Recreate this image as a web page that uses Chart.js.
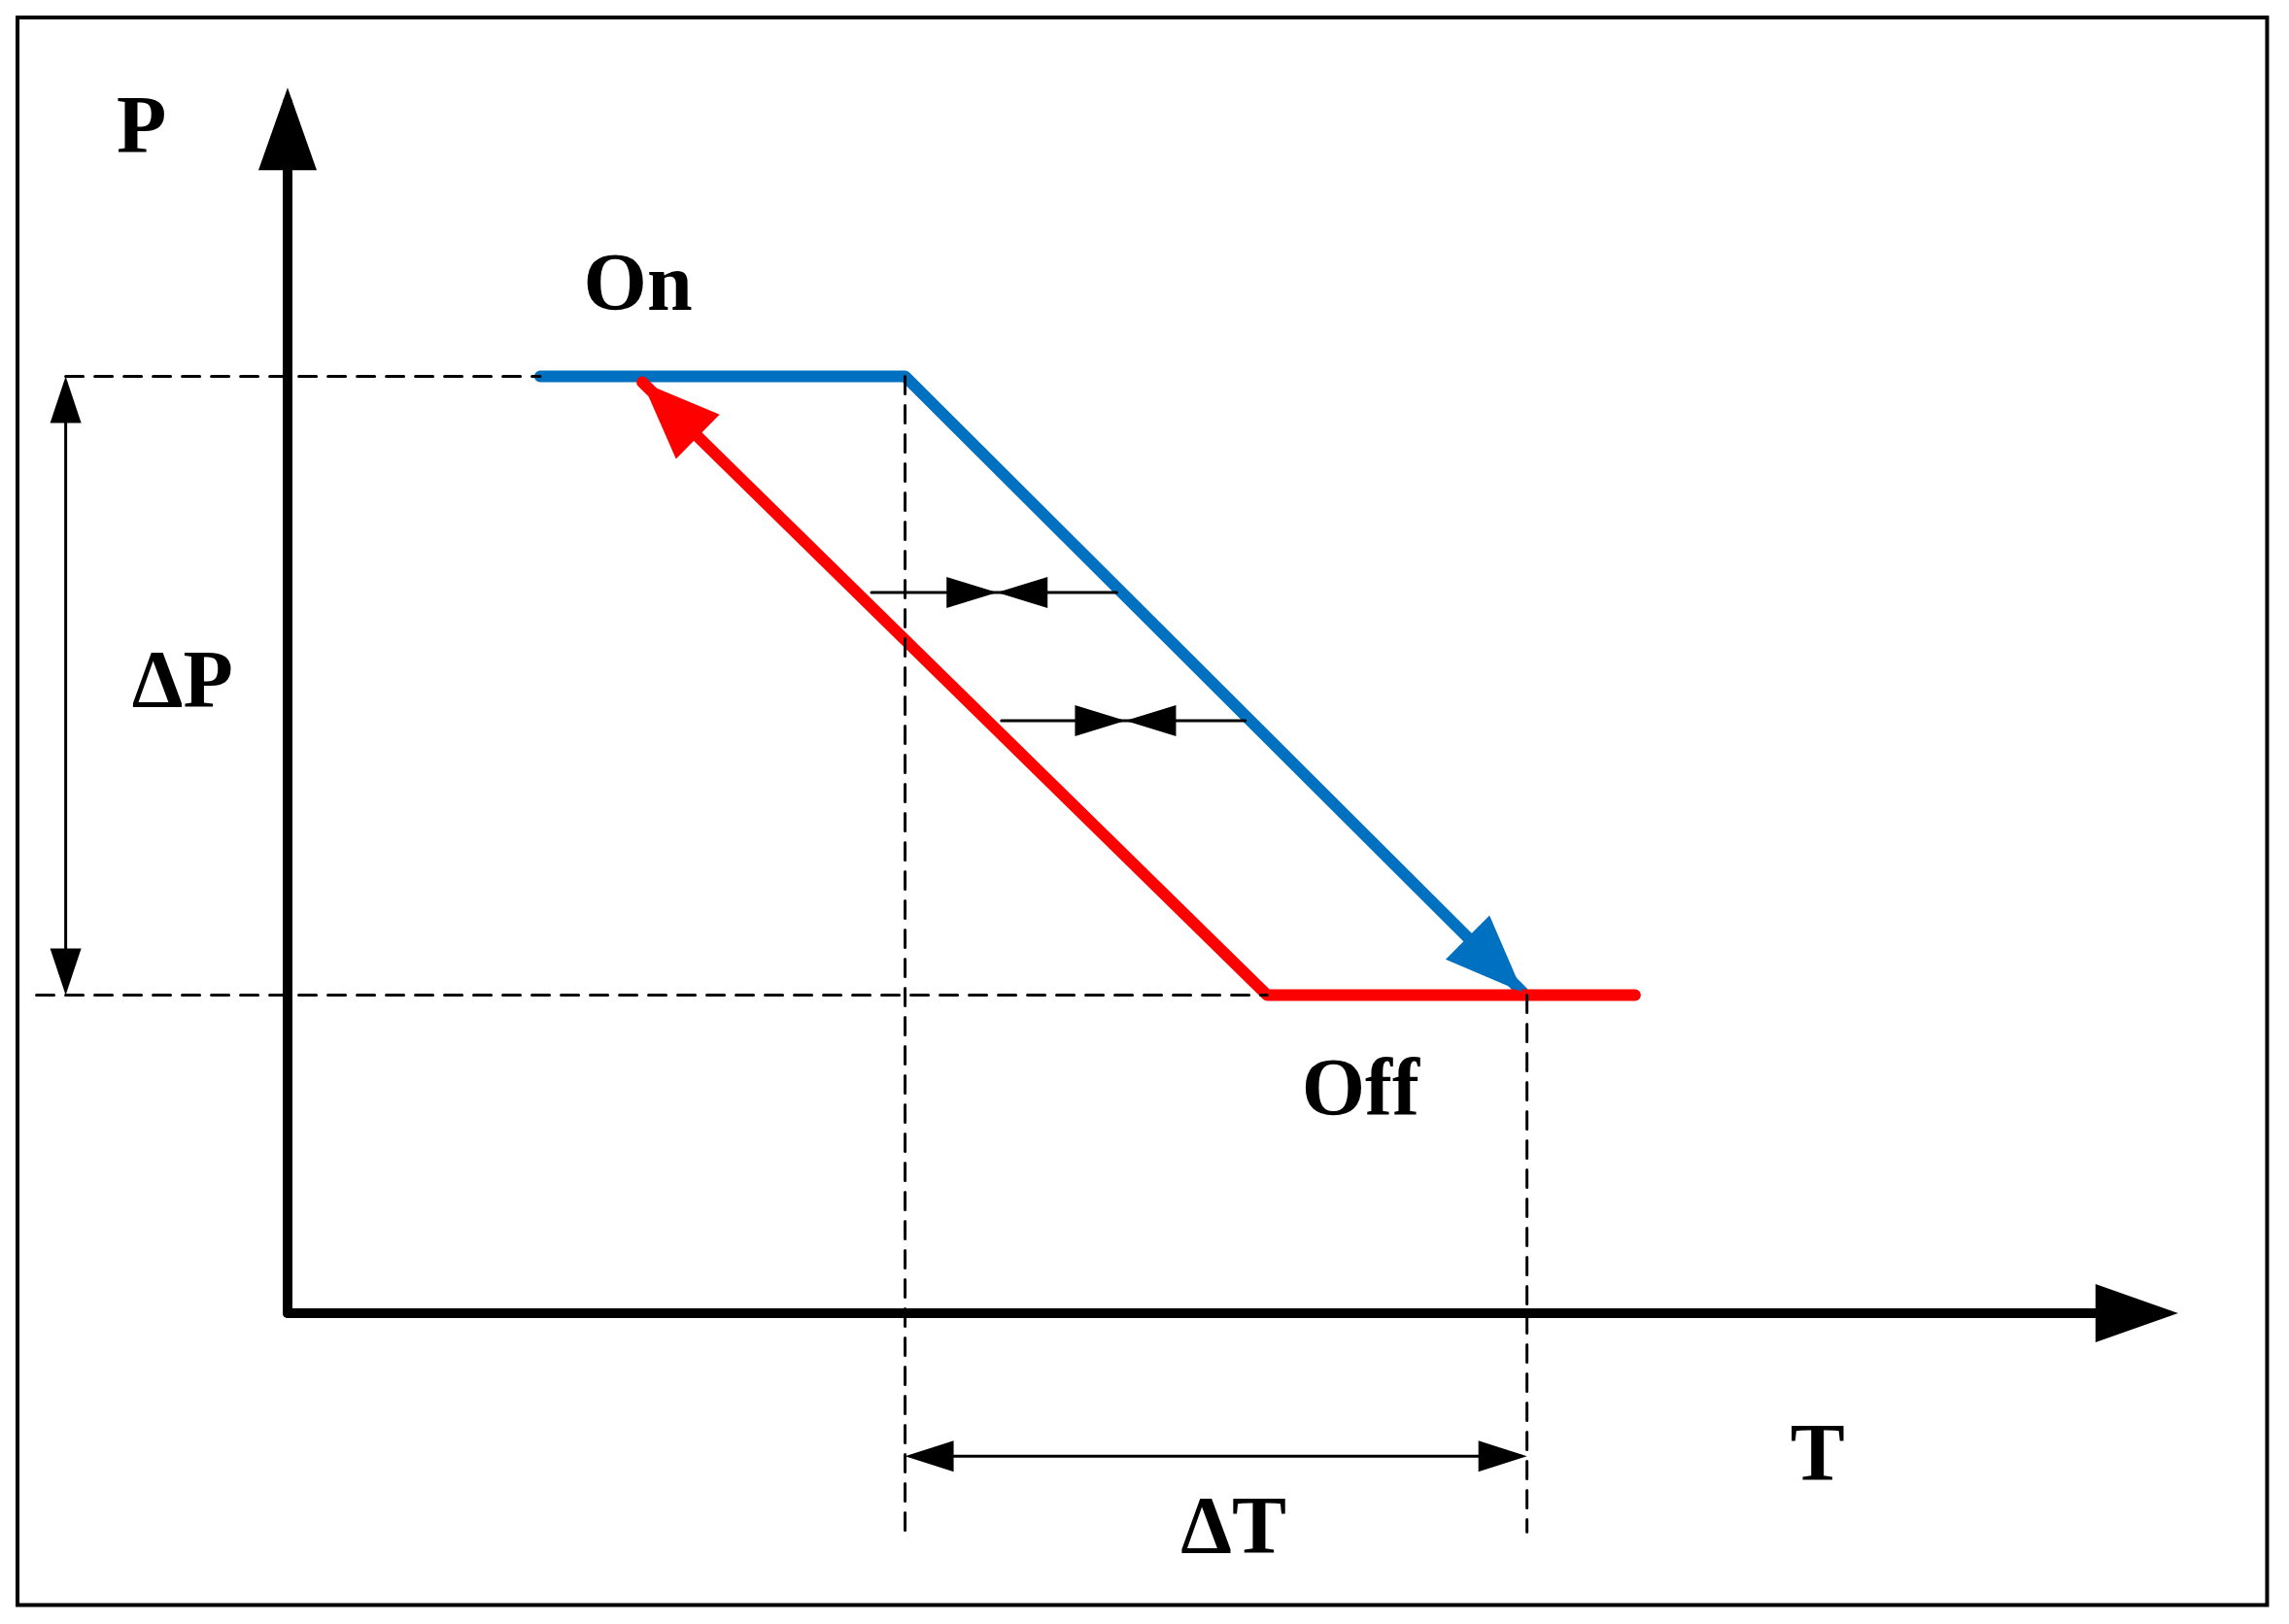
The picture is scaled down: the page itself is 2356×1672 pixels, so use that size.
<!DOCTYPE html>
<html><head><meta charset="utf-8">
<script src="https://cdn.jsdelivr.net/npm/chart.js@4/dist/chart.umd.min.js"></script>
<style>html,body{margin:0;padding:0;background:#fff}#w{width:2356px;height:1672px}</style>
</head><body><div id="w"><canvas id="c"></canvas></div>
<script>
// Diagram coordinates (reference units, y downward)
const blueX = [370, 620, 1043];
const blueY = [258, 258, 680];
const redX = [1120, 868, 440];
const redY = [682, 682, 262];
const yAxisX = [197, 197], yAxisY = [900, 70];
const xAxisX = [197, 1480], xAxisY = [900, 900];
const dashH1X = [45, 370], dashH1Y = [258, 258];
const dashH2X = [25, 868], dashH2Y = [682, 682];
const dashV1X = [620, 620], dashV1Y = [258, 1050];
const dashV2X = [1046, 1046], dashV2Y = [682, 1050];
const dPX = [45, 45], dPY = [262, 678];
const dTX = [624, 1042], dTY = [998, 998];
const s1X = [597, 765], s1Mid = 683, s1Y = 406;
const s2X = [686, 853], s2Mid = 771, s2Y = 494;
const labels = [["P",97,90],["On",437,198],["ΔP",125,470],["Off",932,750],["T",1245,1000],["ΔT",845,1050]];

const pts = (xs, ys) => xs.map((x, i) => ({x, y: ys[i]}));
const ds = (xs, ys, color, w, dash) => ({data: pts(xs, ys), showLine: true, borderColor: color, borderWidth: w, borderDash: dash || [], pointRadius: 0, borderCapStyle: 'round', borderJoinStyle: 'round', fill: false});

const datasets = [
  ds(dashH1X, dashH1Y, '#000', 3, [18, 12]),
  ds(dashH2X, dashH2Y, '#000', 3, [18, 12]),
  ds(dashV1X, dashV1Y, '#000', 3, [18, 12]),
  ds(dashV2X, dashV2Y, '#000', 3, [18, 12]),
  ds(yAxisX, yAxisY, '#000', 10),
  ds(xAxisX, xAxisY, '#000', 10),
  ds(dPX, dPY, '#000', 3),
  ds(dTX, dTY, '#000', 3),
  ds(s1X, [s1Y, s1Y], '#000', 3),
  ds(s2X, [s2Y, s2Y], '#000', 3),
  ds(redX, redY, '#ff0000', 12),
  ds(blueX, blueY, '#0070c0', 12),
];

function head(ctx, sx, sy, fx, fy, tx, ty, len, wid, color) {
  const px = sx.getPixelForValue(tx), py = sy.getPixelForValue(ty);
  const qx = sx.getPixelForValue(fx), qy = sy.getPixelForValue(fy);
  const a = Math.atan2(py - qy, px - qx);
  ctx.save(); ctx.fillStyle = color; ctx.beginPath();
  ctx.moveTo(px, py);
  ctx.lineTo(px - len*Math.cos(a) + wid*Math.sin(a), py - len*Math.sin(a) - wid*Math.cos(a));
  ctx.lineTo(px - len*Math.cos(a) - wid*Math.sin(a), py - len*Math.sin(a) + wid*Math.cos(a));
  ctx.closePath(); ctx.fill(); ctx.restore();
}

const deco = {
  id: 'deco',
  afterDatasetsDraw(chart) {
    const {ctx, scales: {x: sx, y: sy}} = chart;
    // frame
    ctx.save(); ctx.strokeStyle = '#000'; ctx.lineWidth = 4;
    ctx.strokeRect(sx.getPixelForValue(12), sy.getPixelForValue(12), sx.getPixelForValue(1553) - sx.getPixelForValue(12), sy.getPixelForValue(1100) - sy.getPixelForValue(12));
    ctx.restore();
    head(ctx, sx, sy, 197, 300, 197, 60, 85, 30, '#000');
    head(ctx, sx, sy, 1200, 900, 1492, 900, 85, 30, '#000');
    head(ctx, sx, sy, 45, 500, 45, 258, 48, 16, '#000');
    head(ctx, sx, sy, 45, 500, 45, 682, 48, 16, '#000');
    head(ctx, sx, sy, 800, 998, 620, 998, 50, 16, '#000');
    head(ctx, sx, sy, 800, 998, 1046, 998, 50, 16, '#000');
    head(ctx, sx, sy, s1X[0], s1Y, s1Mid, s1Y, 52, 16, '#000');
    head(ctx, sx, sy, s1X[1], s1Y, s1Mid, s1Y, 52, 16, '#000');
    head(ctx, sx, sy, s2X[0], s2Y, s2Mid, s2Y, 52, 16, '#000');
    head(ctx, sx, sy, s2X[1], s2Y, s2Mid, s2Y, 52, 16, '#000');
    head(ctx, sx, sy, redX[1], redY[1], redX[2], redY[2], 80, 32, '#ff0000');
    head(ctx, sx, sy, blueX[1], blueY[1], blueX[2], blueY[2], 80, 32, '#0070c0');
    ctx.save(); ctx.fillStyle = '#000'; ctx.font = 'bold 84px "Liberation Serif", "DejaVu Serif", serif';
    ctx.textAlign = 'center'; ctx.textBaseline = 'middle';
    labels.forEach(([t, x, y]) => ctx.fillText(t, sx.getPixelForValue(x), sy.getPixelForValue(y)));
    ctx.restore();
  }
};

new Chart(document.getElementById('c'), {
  type: 'scatter',
  data: {datasets},
  options: {
    responsive: true, maintainAspectRatio: false, animation: false,
    layout: {padding: 0},
    plugins: {legend: {display: false}, tooltip: {enabled: false}},
    scales: {
      x: {type: 'linear', min: 0, max: 1568, display: false},
      y: {type: 'linear', min: 0, max: 1113, reverse: true, display: false}
    }
  },
  plugins: [deco]
});
</script></body></html>
